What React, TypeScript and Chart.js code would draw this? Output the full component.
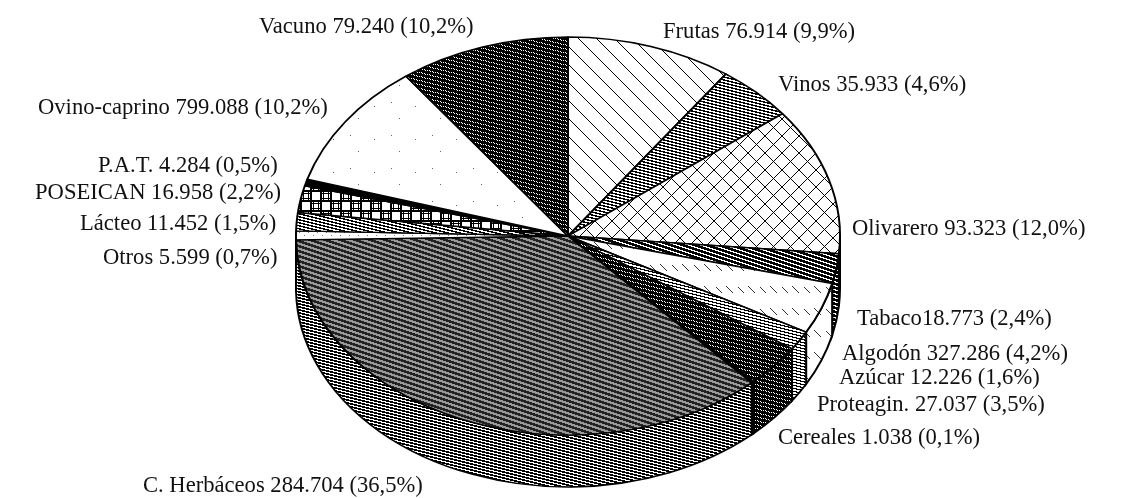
import React, { useEffect, useRef } from "react";
import { Chart, registerables } from "chart.js";

Chart.register(...registerables);

const categories = ["Frutas","Vinos","Olivarero","Tabaco","Algodón","Azúcar","Proteagin.","Cereales","C. Herbáceos","Otros","Lácteo","POSEICAN","P.A.T.","Ovino-caprino","Vacuno"];
const values = [76914,35933,93323,18773,32729,12226,27037,1038,284704,5599,11452,16958,4284,79909,79240];
const valueTexts = ["76.914","35.933","93.323","18.773","327.286","12.226","27.037","1.038","284.704","5.599","11.452","16.958","4.284","799.088","79.240"];
const shareTexts = ["9,9%","4,6%","12,0%","2,4%","4,2%","1,6%","3,5%","0,1%","36,5%","0,7%","1,5%","2,2%","0,5%","10,2%","10,2%"];
const labelX = [663,778,852,857,842,839,817,778,143,103,80,35,98,38,259];
const labelY = [32,85,229,319,354,378,405,438,486,258,224,193,166,108,27];

const W = 1121, H = 498;
const RX = 272;
const K = 199 / 272;
const DEPTH = 52;

type Px = (x: number, y: number) => string | null;
function pixelTile(w: number, h: number, fn: Px): HTMLCanvasElement {
  const c = document.createElement("canvas");
  c.width = w; c.height = h;
  const g = c.getContext("2d")!;
  g.fillStyle = "#fff"; g.fillRect(0, 0, w, h);
  for (let y = 0; y < h; y++) for (let x = 0; x < w; x++) {
    const v = fn(x, y);
    if (v) { g.fillStyle = v; g.fillRect(x, y, 1, 1); }
  }
  return c;
}
const mod = (a: number, b: number) => ((a % b) + b) % b;
const stripes = (w: number, h: number, rise: number, on: number, extra?: Px, ink = "#000"): HTMLCanvasElement =>
  pixelTile(w, h, (x, y) => {
    const t = mod(y * rise - x, w);
    if (t < on) return ink;
    return extra ? extra(x, y) : null;
  });

function hatch(size: number, both: boolean): HTMLCanvasElement {
  return pixelTile(size, size, (x, y) => (x === y || (both && x + y === size - 1) ? "#000" : null));
}

function tiles(): Record<string, HTMLCanvasElement> {
  const check: Px = (x, y) => (mod(x + y, 2) === 0 ? "#000" : null);
  return {
    frutas: hatch(18, false),
    vinos: stripes(12, 3, 4, 6),
    olivarero: hatch(17, true),
    tabaco: stripes(12, 4, 3, 8),
    algodon: pixelTile(22, 22, (x, y) => {
      const a = mod(x - y, 22) === 0 && x % 22 < 7;
      const b = mod(x - y - 11, 22) === 0 && mod(x - 12, 22) < 6;
      return a || b ? "#333" : null;
    }),
    azucar: stripes(12, 3, 4, 5),
    proteagin: stripes(16, 4, 4, 11, check),
    black: pixelTile(2, 2, () => "#000"),
    herbaceos: stripes(15, 5, 3, 8, () => "#9a9a9a", "#222"),
    herbWall: stripes(12, 3, 4, 7),
    otros: pixelTile(9, 7, (x, y) => ((x === 2 && y === 1) || (x === 7 && y === 4) ? "#777" : null)),
    lacteo: stripes(12, 3, 4, 6),
    poseican: pixelTile(20, 20, (x, y) => {
      const cx = x % 10, cy = y % 10;
      if (cx < 2 || cy < 2) return "#000";
      const odd = (Math.floor(x / 10) + Math.floor(y / 10)) % 2 === 1;
      if (odd && (cx === 3 || cx === 8 || cy === 3 || cy === 8)) return "#000";
      return null;
    }),
    ovino: pixelTile(41, 33, (x, y) =>
      (x === 5 && y === 7) || (x === 22 && y === 3) || (x === 30 && y === 19) ? "#666" : null),
    vacuno: stripes(16, 4, 4, 11, check),
  };
}

const fillKeys = ["frutas","vinos","olivarero","tabaco","algodon","azucar","proteagin","black","herbaceos","otros","lacteo","poseican","black","ovino","vacuno"];
const wallKeys = ["frutas","vinos","tabaco","tabaco","algodon","azucar","proteagin","black","herbWall","otros","lacteo","poseican","black","ovino","vacuno"];

export default function App() {
  const ref = useRef<HTMLCanvasElement>(null);
  useEffect(() => {
    const ctx = ref.current!.getContext("2d")!;
    const t = tiles();
    const pat = (k: string) => ctx.createPattern(t[k], "repeat")!;
    const fills = fillKeys.map(pat);
    const walls = wallKeys.map(pat);

    const pie3d = {
      id: "pie3d",
      beforeDatasetsDraw(chart: any) {
        const arcs = chart.getDatasetMeta(0).data;
        const c = chart.ctx;
        const cy = arcs[0].y;
        // Keep each tile on whole device pixels under the ellipse squash.
        const m = new DOMMatrix().translate(0, (-cy * (1 - K)) / K).scale(1, 1 / K);
        [...fills, ...walls].forEach((p) => p.setTransform(m));
        c.save();
        c.imageSmoothingEnabled = false;
        c.translate(0, cy);
        c.scale(1, K);
        c.translate(0, -cy);
        const d = DEPTH / K;
        c.lineWidth = 2;
        c.strokeStyle = "#000";
        arcs.forEach((a: any, i: number) => {
          const s = Math.max(a.startAngle, 0);
          const e = Math.min(a.endAngle, Math.PI);
          if (e <= s) return;
          c.beginPath();
          c.arc(a.x, a.y, a.outerRadius, s, e);
          c.arc(a.x, a.y + d, a.outerRadius, e, s, true);
          c.closePath();
          c.fillStyle = walls[i];
          c.fill();
          c.stroke();
        });
      },
      afterDatasetsDraw(chart: any) {
        chart.ctx.restore();
      },
      afterDraw(chart: any) {
        const c = chart.ctx;
        c.save();
        c.fillStyle = "#111";
        c.font = '22.6px "Liberation Serif"';
        c.textBaseline = "middle";
        c.textAlign = "left";
        categories.forEach((name, i) => {
          const sep = name === "Tabaco" ? "" : " ";
          c.fillText(`${name}${sep}${valueTexts[i]} (${shareTexts[i]})`, labelX[i], labelY[i]);
        });
        c.restore();
      },
    };

    const chart = new Chart(ctx, {
      type: "pie",
      data: {
        labels: categories,
        datasets: [{
          data: values,
          backgroundColor: fills,
          borderColor: "#000",
          borderWidth: 2,
          radius: RX,
          clip: false,
        } as any],
      },
      options: {
        animation: false,
        responsive: false,
        events: [],
        layout: { padding: { left: 15, bottom: 26 } },
        plugins: { legend: { display: false }, tooltip: { enabled: false } },
      },
      plugins: [pie3d],
    } as any);
    return () => chart.destroy();
  }, []);
  return (
    <canvas
      ref={ref}
      width={W}
      height={H}
      style={{ position: "fixed", left: 0, top: 0, width: W, height: H, display: "block" }}
    />
  );
}
